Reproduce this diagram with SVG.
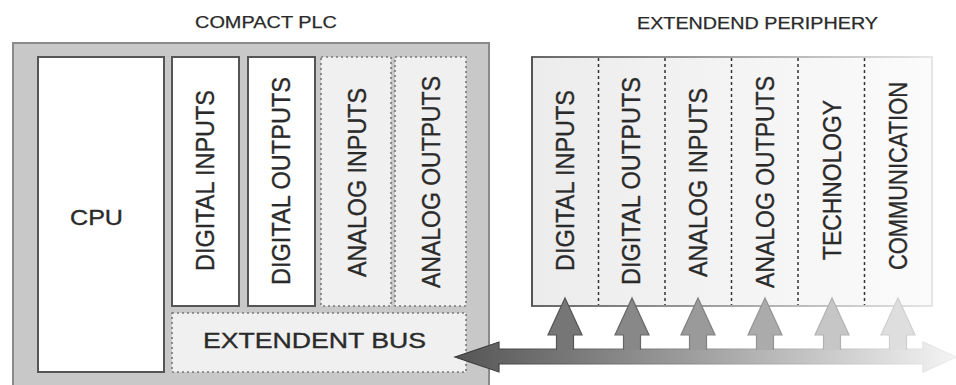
<svg xmlns="http://www.w3.org/2000/svg" width="956" height="385" viewBox="0 0 956 385">
<defs>
<linearGradient id="perFill" x1="0" y1="0" x2="1" y2="0">
<stop offset="0" stop-color="#ececec"/>
<stop offset="1" stop-color="#fbfbfb"/>
</linearGradient>
<linearGradient id="perEdge" x1="532" y1="0" x2="935" y2="0" gradientUnits="userSpaceOnUse">
<stop offset="0" stop-color="#666"/>
<stop offset="1" stop-color="#e6e6e6"/>
</linearGradient>
<linearGradient id="busFill" x1="455" y1="0" x2="956" y2="0" gradientUnits="userSpaceOnUse">
<stop offset="0" stop-color="#555"/>
<stop offset="0.45" stop-color="#9a9a9a"/>
<stop offset="1" stop-color="#f4f4f4"/>
</linearGradient>
<linearGradient id="busEdge" x1="455" y1="0" x2="956" y2="0" gradientUnits="userSpaceOnUse">
<stop offset="0" stop-color="#333"/>
<stop offset="1" stop-color="#eee"/>
</linearGradient>
</defs>
<style>
text{font-family:"Liberation Sans",Arial,sans-serif;fill:#2a2a2a;stroke:#2a2a2a;stroke-width:0.35}
.title{font-size:17px;stroke-width:0.25}
.hl{font-size:22px}
.vl{font-size:26px}
.solid{fill:#fff;stroke:#555;stroke-width:2}
.dotted{fill:#f0f0f0;stroke:#777;stroke-width:1.6;stroke-dasharray:2 3}
.div{stroke:#333;stroke-width:1.5;stroke-dasharray:3 3}
</style>
<rect width="956" height="385" fill="#fff"/>

<g id="compact-plc">
<text class="title" x="195" y="28" textLength="142" lengthAdjust="spacingAndGlyphs">COMPACT PLC</text>
<rect x="13" y="43" width="476" height="350" fill="#c8c8c8" stroke="#8a8a8a" stroke-width="2"/>
</g>
<g id="cpu">
<rect class="solid" x="38" y="57" width="126" height="315"/>
<text class="hl" x="70" y="225" textLength="53" lengthAdjust="spacingAndGlyphs">CPU</text>
</g>
<g id="plc-digital-inputs">
<rect class="solid" x="172" y="57" width="67" height="249"/>
<text class="vl" transform="translate(213.5,180.5) rotate(-90)" x="-90.5" textLength="181" lengthAdjust="spacingAndGlyphs">DIGITAL INPUTS</text>
</g>
<g id="plc-digital-outputs">
<rect class="solid" x="248" y="57" width="67" height="249"/>
<text class="vl" transform="translate(289.5,181) rotate(-90)" x="-104" textLength="208" lengthAdjust="spacingAndGlyphs">DIGITAL OUTPUTS</text>
</g>
<g id="plc-analog-inputs">
<rect class="dotted" x="321" y="57" width="70" height="249"/>
<text class="vl" transform="translate(365.5,182.5) rotate(-90)" x="-94.5" textLength="189" lengthAdjust="spacingAndGlyphs">ANALOG INPUTS</text>
</g>
<g id="plc-analog-outputs">
<rect class="dotted" x="395" y="57" width="71" height="249"/>
<text class="vl" transform="translate(440,182) rotate(-90)" x="-106" textLength="212" lengthAdjust="spacingAndGlyphs">ANALOG OUTPUTS</text>
</g>
<g id="extendent-bus">
<rect class="dotted" x="172" y="313" width="294" height="59"/>
<text class="hl" x="203" y="348" textLength="223" lengthAdjust="spacingAndGlyphs">EXTENDENT BUS</text>
</g>

<g id="extended-periphery">
<text class="title" x="637" y="29" textLength="241" lengthAdjust="spacingAndGlyphs">EXTENDEND PERIPHERY</text>
<rect x="532" y="57" width="400" height="249" fill="url(#perFill)" stroke="url(#perEdge)" stroke-width="2"/>
<line x1="532" y1="57" x2="532" y2="306" stroke="#555" stroke-width="2"/>
<line class="div" x1="598.5" y1="58" x2="598.5" y2="305"/>
<line class="div" x1="665" y1="58" x2="665" y2="305"/>
<line class="div" x1="731.5" y1="58" x2="731.5" y2="305"/>
<line class="div" x1="798" y1="58" x2="798" y2="305"/>
<line class="div" x1="864.5" y1="58" x2="864.5" y2="305"/>
</g>
<g id="ext-digital-inputs">
<text class="vl" transform="translate(573.5,180.5) rotate(-90)" x="-90.5" textLength="181" lengthAdjust="spacingAndGlyphs">DIGITAL INPUTS</text>
</g>
<g id="ext-digital-outputs">
<text class="vl" transform="translate(639.5,181) rotate(-90)" x="-104" textLength="208" lengthAdjust="spacingAndGlyphs">DIGITAL OUTPUTS</text>
</g>
<g id="ext-analog-inputs">
<text class="vl" transform="translate(707,182.5) rotate(-90)" x="-94.5" textLength="189" lengthAdjust="spacingAndGlyphs">ANALOG INPUTS</text>
</g>
<g id="ext-analog-outputs">
<text class="vl" transform="translate(773.5,182) rotate(-90)" x="-106" textLength="212" lengthAdjust="spacingAndGlyphs">ANALOG OUTPUTS</text>
</g>
<g id="ext-technology">
<text class="vl" transform="translate(840.5,180) rotate(-90)" x="-80" textLength="160" lengthAdjust="spacingAndGlyphs">TECHNOLOGY</text>
</g>
<g id="ext-communication">
<text class="vl" transform="translate(907,176) rotate(-90)" x="-94" textLength="188" lengthAdjust="spacingAndGlyphs">COMMUNICATION</text>
</g>

<g id="connectors">
<path d="M455,357 L499,342 V349 H923 V342 L956,357 L923,372 V364 H499 V372 Z" fill="url(#busFill)" stroke="url(#busEdge)" stroke-width="1.2"/>
<path d="M556.5,350 V335 H548 L565,298 L582,335 H573.5 V350" fill="#767676" stroke="#555" stroke-width="1.2"/>
<path d="M623.5,350 V335 H615 L632,298 L649,335 H640.5 V350" fill="#888" stroke="#666" stroke-width="1.2"/>
<path d="M689.5,350 V335 H681 L698,298 L715,335 H706.5 V350" fill="#9a9a9a" stroke="#808080" stroke-width="1.2"/>
<path d="M756.5,350 V335 H748 L765,298 L782,335 H773.5 V350" fill="#ababab" stroke="#949494" stroke-width="1.2"/>
<path d="M823.5,350 V335 H815 L832,298 L849,335 H840.5 V350" fill="#c6c6c6" stroke="#b2b2b2" stroke-width="1.2"/>
<path d="M889.5,350 V335 H881 L898,298 L915,335 H906.5 V350" fill="#dedede" stroke="#cfcfcf" stroke-width="1.2"/>
</g>
</svg>
